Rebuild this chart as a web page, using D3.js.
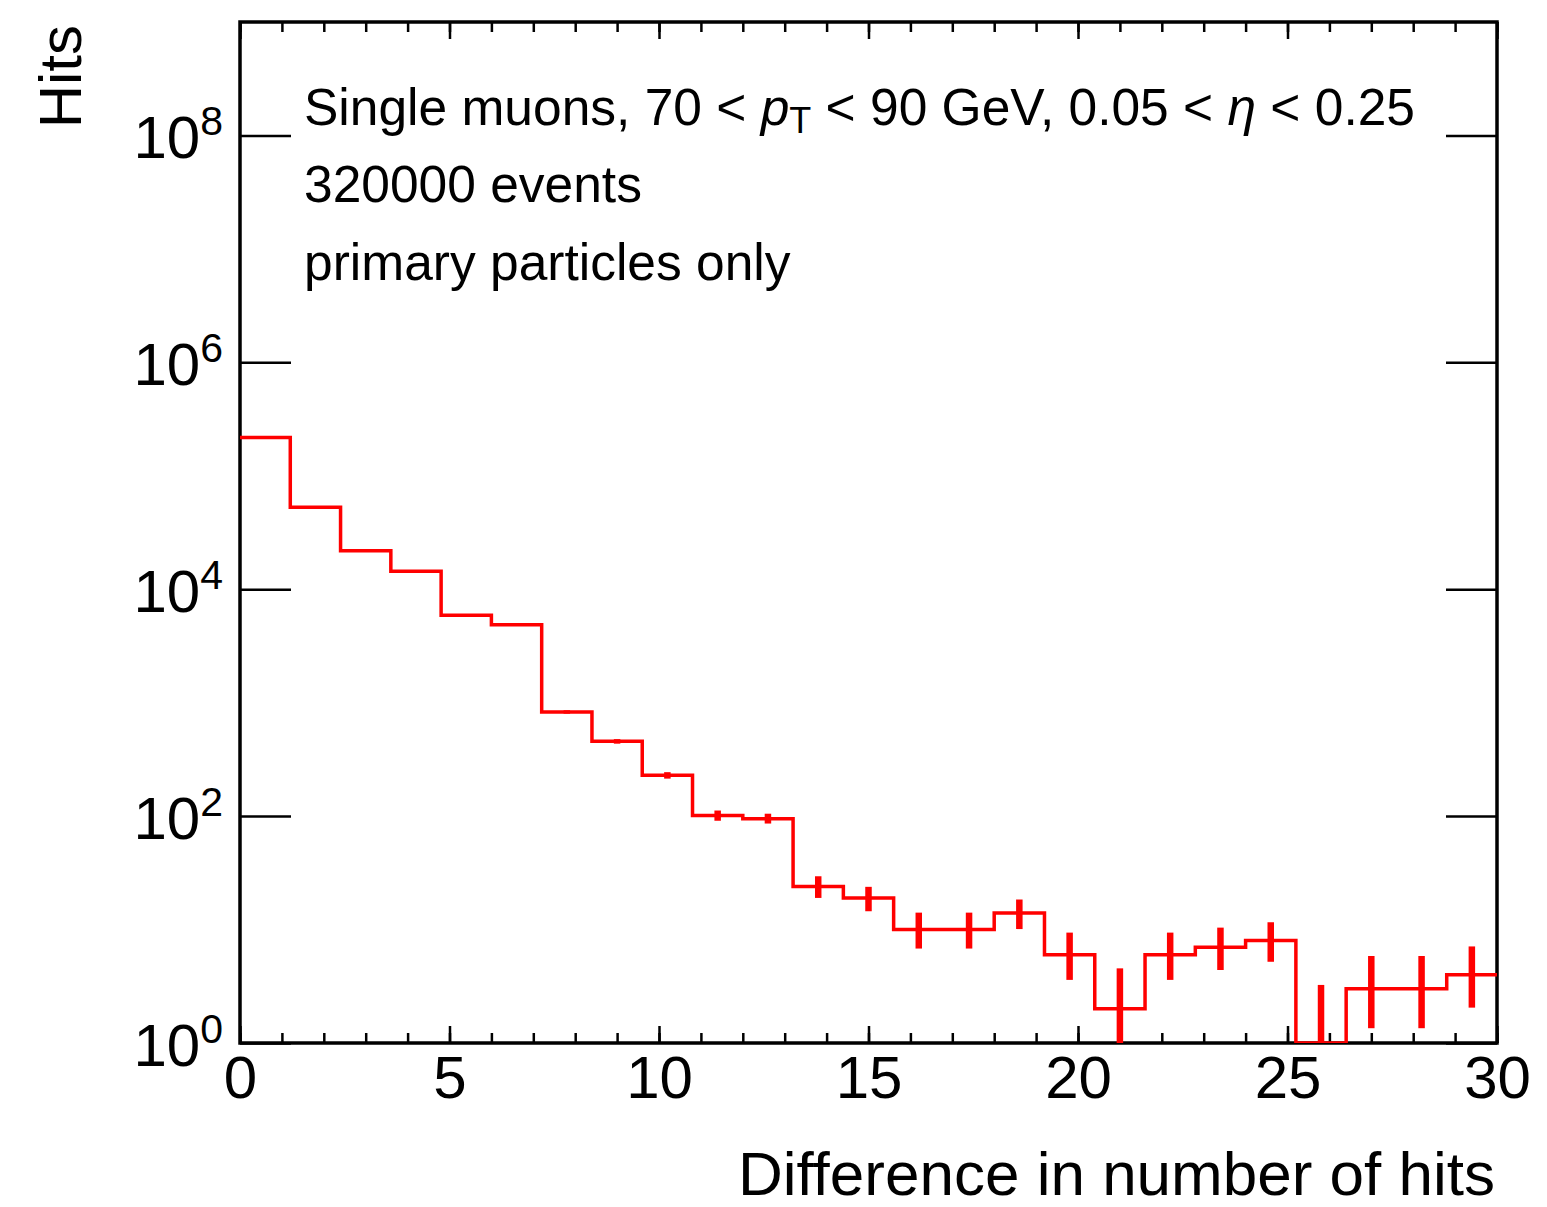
<!DOCTYPE html>
<meta charset="UTF-8">
<style>
  body { margin: 0; background: #fff; }
  text { font-family: "Liberation Sans", Arial, Helvetica, sans-serif; fill: #000; }
  .tick line { stroke: #000; stroke-width: 2.5px; }
  .hist { fill: none; stroke: #ff0000; stroke-width: 3.5px; }
  .err { stroke: #ff0000; stroke-width: 6.5px; }
</style>
<body>
<script src="https://cdn.jsdelivr.net/npm/d3@7"></script>
<script>
  // histogram contents, 25 bins of width 1.2 from 0 to 30
  var binWidth = 1.2;
  var counts = [217000, 52700, 21800, 14400, 5900, 4850, 828, 456, 229, 101, 95, 24, 19,
    10, 10, 14, 6, 2, 6, 7, 8, 1, 3, 3, 4];
  // error bar bounds
  var errLow = [216500, 52470, 21650, 14280, 5820, 4780, 800, 435, 214, 91, 86, 19, 14.5,
    6.8, 6.8, 10.1, 3.6, 0.7, 3.6, 4.4, 5.2, 0.17, 1.35, 1.35, 2.05];
  var errHigh = [217470, 52930, 21950, 14520, 5980, 4920, 857, 477, 244, 112, 105, 29.5, 23.8,
    14.1, 14.1, 18.4, 9.4, 4.55, 9.4, 10.4, 11.6, 3.25, 5.85, 5.85, 7.1];

  var xMajor = [0, 5, 10, 15, 20, 25, 30];
  var xMinor = d3.range(0, 31, 1);
  var yMajorExp = [0, 2, 4, 6, 8];

  var W = 1547, H = 1207;
  var margin = {top: 22, right: 50, bottom: 164, left: 240};
  var width = W - margin.left - margin.right,
    height = H - margin.top - margin.bottom;

  var svg = d3.select("body").append("svg")
    .attr("width", W)
    .attr("height", H);

  var g = svg.append("g")
    .attr("transform", "translate(" + margin.left + "," + margin.top + ")");

  var x = d3.scaleLinear().domain([0, 30]).range([0, width]);
  var y = d3.scaleLog().domain([1, 1e9]).range([height, 0]);

  g.append("clipPath").attr("id", "clip")
    .append("rect").attr("width", width).attr("height", height);
  g.append("clipPath").attr("id", "clip2")
    .append("rect").attr("x", -2).attr("y", -2).attr("width", width + 4).attr("height", height + 2);

  // minor ticks, bottom and top
  g.append("g").attr("transform", "translate(0," + height + ")")
    .call(d3.axisBottom(x).tickValues(xMinor).tickSize(-10).tickFormat(""));
  g.append("g")
    .call(d3.axisTop(x).tickValues(xMinor).tickSize(-10).tickFormat(""));

  // major ticks with labels
  var xAxis = g.append("g").attr("transform", "translate(0," + height + ")")
    .call(d3.axisBottom(x).tickValues(xMajor).tickSize(-17).tickPadding(12).tickFormat(d3.format("d")));
  xAxis.selectAll("text").style("font-size", "60px");
  g.append("g")
    .call(d3.axisTop(x).tickValues(xMajor).tickSize(-17).tickFormat(""));

  var yTicks = yMajorExp.map(function(e) { return Math.pow(10, e); });
  var yAxis = g.append("g")
    .call(d3.axisLeft(y).tickValues(yTicks).tickSize(-51).tickPadding(17));
  yAxis.selectAll("text").each(function(d, i) {
    var t = d3.select(this).text("").attr("dy", null)
      .attr("transform", "translate(0,22)");
    t.append("tspan").style("font-size", "60px").text("10");
    t.append("tspan").style("font-size", "41px").attr("dy", -23).text(yMajorExp[i]);
  });
  g.append("g").attr("transform", "translate(" + width + ",0)")
    .call(d3.axisRight(y).tickValues(yTicks).tickSize(-51).tickFormat(""));

  g.selectAll(".domain").remove();

  // frame
  g.append("rect")
    .attr("width", width).attr("height", height)
    .attr("fill", "none").attr("stroke", "#000").attr("stroke-width", 3.5);

  // histogram step line
  function yv(v) { return v > 0 ? y(Math.max(v, 1)) : height; }
  var pts = [];
  counts.forEach(function(c, i) {
    pts.push([x(i * binWidth), yv(c)]);
    pts.push([x((i + 1) * binWidth), yv(c)]);
  });
  g.append("path")
    .attr("class", "hist")
    .attr("clip-path", "url(#clip2)")
    .attr("d", d3.line()(pts));

  // error bars
  g.append("g").attr("clip-path", "url(#clip)")
    .selectAll("line")
    .data(counts)
    .enter().append("line")
    .attr("class", "err")
    .attr("x1", function(d, i) { return x((i + 0.5) * binWidth); })
    .attr("x2", function(d, i) { return x((i + 0.5) * binWidth); })
    .attr("y1", function(d, i) { return errLow[i] >= 1 ? y(errLow[i]) : height + 5; })
    .attr("y2", function(d, i) { return y(errHigh[i]); });

  // axis titles
  svg.append("text")
    .attr("text-anchor", "end")
    .attr("x", 1495).attr("y", 1195)
    .style("font-size", "62px")
    .text("Difference in number of hits");

  svg.append("text")
    .attr("text-anchor", "end")
    .attr("transform", "translate(81,25) rotate(-90)")
    .style("font-size", "60px")
    .text("Hits");

  // annotation
  var note = svg.append("g").attr("transform", "translate(304,0)");
  var l1 = note.append("text").attr("y", 125).style("font-size", "51.5px");
  l1.append("tspan").text("Single muons, 70 < ");
  l1.append("tspan").style("font-style", "italic").text("p");
  l1.append("tspan").attr("dy", 8).style("font-size", "36px").text("T");
  l1.append("tspan").attr("dy", -8).text(" < 90 GeV, 0.05 < ");
  l1.append("tspan").style("font-style", "italic").text("\u03b7");
  l1.append("tspan").text(" < 0.25");
  note.append("text").attr("y", 202).style("font-size", "51.5px").text("320000 events");
  note.append("text").attr("y", 280).style("font-size", "51.5px").text("primary particles only");
</script>
</body>
